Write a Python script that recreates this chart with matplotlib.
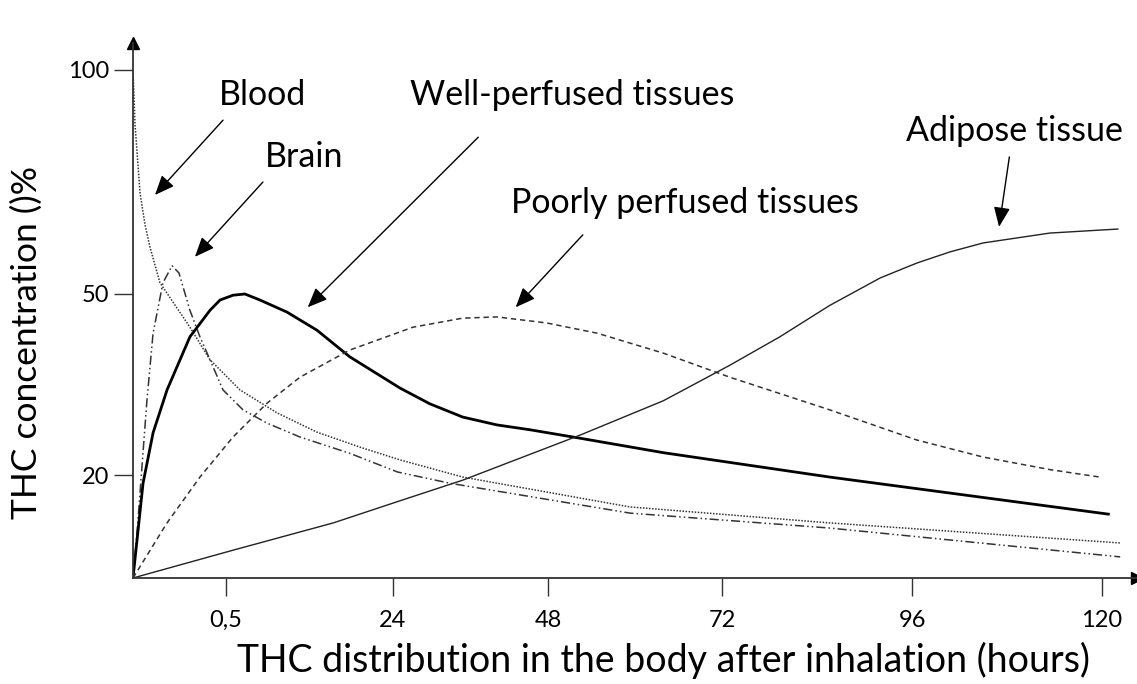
import matplotlib
matplotlib.use("Agg")
import matplotlib.pyplot as plt
import numpy as np

plt.rcParams['font.family'] = ['Lato', 'DejaVu Sans']

# THC distribution curves (hours after inhalation, concentration %)
blood_h = [0, 0.011, 0.038, 0.065, 0.091, 0.145, 0.306, 0.414, 2.47, 7.68, 13.3, 19.4,
           25.1, 34.8, 59.3, 85.6, 122.3]
blood_pct = [100, 87.7, 72.5, 65.4, 60.5, 52.5, 44.5, 39.1, 34.1, 30.3, 27.1, 24.6,
             22.5, 19.6, 13.8, 10.7, 6.8]

brain_h = [0, 0.0215, 0.048, 0.075, 0.108, 0.161, 0.21, 0.247, 0.306, 0.36, 0.414, 0.484,
           2.89, 6.27, 10.9, 17.9, 24.7, 32.8, 59.3, 85.6, 122.3]
brain_pct = [0, 8.7, 21.3, 32.4, 43.5, 52.5, 56.3, 54.7, 47.3, 42.9, 39.1, 34.1,
             30.8, 28.6, 26.3, 23.6, 20.5, 18.4, 12.6, 9.7, 4.1]

well_h = [0, 0.054, 0.108, 0.183, 0.306, 0.414, 0.468, 1.49, 3.17, 5.28, 9.08, 13.3, 17.9,
          25.1, 29.7, 34.8, 40.1, 45.2, 52.4, 63.9, 85.6, 120.8]
well_pct = [0, 18.4, 27.0, 34.1, 42.9, 47.3, 49.0, 49.8, 50.0, 49.0, 47.0, 44.0, 39.6,
            34.4, 31.8, 29.6, 28.3, 27.5, 26.1, 23.7, 19.6, 12.4]

poor_h = [0, 0.183, 0.36, 1.49, 6.27, 10.9, 17.9, 27.1, 34.8, 40.1, 47.8, 54.8,
          63.9, 73.0, 85.6, 96.6, 104.9, 113.4, 119.7]
poor_pct = [0, 10.7, 19.6, 26.3, 31.9, 36.2, 40.7, 44.5, 46.0, 46.2, 45.2, 43.5,
            40.2, 36.2, 30.8, 25.8, 23.0, 20.9, 19.6]

adipose_h = [0, 1.49, 15.6, 25.1, 34.8, 52.4, 63.9, 73.0, 79.3, 85.6, 92.0, 96.6,
             100.8, 105.0, 113.4, 122.0]
adipose_pct = [0, 5.4, 10.7, 15.0, 19.0, 26.6, 32.3, 38.2, 42.9, 48.1, 53.6, 56.9,
               59.4, 61.4, 63.6, 64.5]

x_ticks = [0.5, 24, 48, 72, 96, 120]
x_ticklabels = ['0,5', '24', '48', '72', '96', '120']
y_ticks = [20, 50, 100]
y_ticklabels = ['20', '50', '100']

# hand-drawn, uneven axes: piecewise linear scales
x_anchor_h = [0, 0.5, 24, 48, 72, 96, 120, 126]
x_anchor_pos = [0, 93, 260, 415, 589, 779, 969, 1016.5]
y_anchor_pct = [0, 20, 50, 100, 112]
y_anchor_pos = [0, 103, 284, 508, 561.8]


def x_fwd(v):
    return np.interp(v, x_anchor_h, x_anchor_pos)


def x_inv(v):
    return np.interp(v, x_anchor_pos, x_anchor_h)


def y_fwd(v):
    return np.interp(v, y_anchor_pct, y_anchor_pos)


def y_inv(v):
    return np.interp(v, y_anchor_pos, y_anchor_pct)


fig = plt.figure(figsize=(11.37, 6.84), dpi=100)
ax = fig.add_axes([133 / 1137, 106 / 684, 1004 / 1137, 535 / 684])
ax.set_xscale('function', functions=(x_fwd, x_inv))
ax.set_yscale('function', functions=(y_fwd, y_inv))
ax.set_xlim(0, x_inv(1004))
ax.set_ylim(0, y_inv(535))

ax.plot(blood_h, blood_pct, color='#333', lw=1.1, ls=(0, (1, 1)))
ax.plot(brain_h, brain_pct, color='#333', lw=1.1, ls=(0, (6, 2, 1, 2, 1, 2)))
ax.plot(well_h, well_pct, color='black', lw=2.0)
ax.plot(poor_h, poor_pct, color='#333', lw=1.1, ls=(0, (3.5, 2.5)))
ax.plot(adipose_h, adipose_pct, color='#222', lw=1.0)

# axes styling
for s in ['top', 'right']:
    ax.spines[s].set_visible(False)
for s in ['left', 'bottom']:
    ax.spines[s].set_color('#333')
    ax.spines[s].set_linewidth(1.3)
ax.plot(1, 0, '>', color='black', ms=9, transform=ax.transAxes, clip_on=False)
ax.plot(0, 1, '^', color='black', ms=9, transform=ax.transAxes, clip_on=False)

ax.set_xticks(x_ticks)
ax.set_xticklabels(x_ticklabels)
ax.set_yticks(y_ticks)
ax.set_yticklabels(y_ticklabels)
ax.minorticks_off()
ax.tick_params(axis='x', direction='out', length=13, width=1, pad=10, labelsize=17, color='#333')
ax.tick_params(axis='y', direction='out', length=14, width=1, pad=3, labelsize=17, color='#333')

ax.set_xlabel('THC distribution in the body after inhalation (hours)', fontsize=27)
ax.xaxis.set_label_coords(0.528, -0.12)
ax.set_ylabel('THC concentration ()%', fontsize=25.5)
ax.yaxis.set_label_coords(-0.09, 0.44)

# labels with arrows
labels = [
    ('Blood', 0.46, 94.4, 'left', (0.484, 88.8), (0.118, 72.1)),
    ('Brain', 5.99, 80.6, 'left', (5.7, 75.0), (0.333, 58.3)),
    ('Well-perfused tissues', 26.7, 94.4, 'left', (37.2, 85.0), (12.0, 47.8)),
    ('Poorly perfused tissues', 42.3, 70.3, 'left', (52.8, 63.2), (43.0, 47.8)),
    ('Adipose tissue', 122.6, 86.3, 'right', (108.3, 80.6), (107.0, 65.0)),
]
for txt, tx, ty, align, tail, tip in labels:
    ax.text(tx, ty, txt, fontsize=24.5, ha=align, va='center')
    ax.annotate('', xy=tip, xytext=tail,
                arrowprops=dict(arrowstyle='-|>,head_length=0.6,head_width=0.25',
                                color='black', lw=1, mutation_scale=20,
                                shrinkA=0, shrinkB=0))

fig.savefig('out.png', dpi=100)
